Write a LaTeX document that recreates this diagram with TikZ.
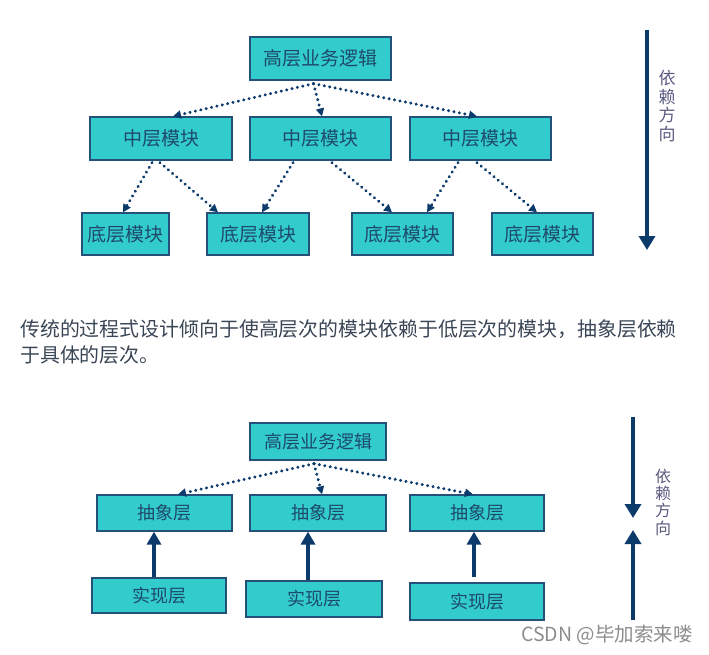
\documentclass[tikz,border=0pt]{standalone}
\usepackage{fontspec}
\setmainfont{Noto Sans CJK SC}
\usetikzlibrary{arrows.meta}
\definecolor{boxfill}{HTML}{33CCCC}
\definecolor{boxline}{HTML}{24507A}
\definecolor{boxtext}{HTML}{1E4A6A}
\definecolor{navy}{HTML}{0B3A6B}
\definecolor{dirtext}{HTML}{5A5A80}
\definecolor{paratext}{HTML}{3A4656}
\tikzset{
  box/.style={draw=boxline, line width=1.3pt, fill=boxfill, inner sep=0pt, text=boxtext, font=\fontsize{19}{21}\selectfont},
  sbox/.style={box, font=\fontsize{18}{20}\selectfont},
  dep/.style={navy, line width=3.3pt, dash pattern=on 0.01pt off 5.5pt, line cap=round, -{Triangle[length=8pt,width=8pt]}},
  impl/.style={navy, line width=3.3pt, -{Triangle[length=13pt,width=14pt]}},
  dirarrow/.style={navy, line width=4pt, -{Triangle[length=14pt,width=16pt]}},
  dirlabel/.style={text=dirtext, align=center, inner sep=0pt},
}
\begin{document}
\begin{tikzpicture}[x=1pt,y=-1pt]
\useasboundingbox (0,0) rectangle (709,655);
% ---------- top section ----------
\node[box, minimum width=141pt, minimum height=43pt] (H1) at (320.5,58.5) {高层业务逻辑};
\node[box, minimum width=142pt, minimum height=43pt] (M1) at (161,138.5) {中层模块};
\node[box, minimum width=141pt, minimum height=43pt] (M2) at (320.5,138.5) {中层模块};
\node[box, minimum width=141pt, minimum height=43pt] (M3) at (480.5,138.5) {中层模块};
\node[box, minimum width=87pt, minimum height=42pt] (B1) at (125.5,234) {底层模块};
\node[box, minimum width=102pt, minimum height=42pt] (B2) at (258,234) {底层模块};
\node[box, minimum width=101pt, minimum height=42pt] (B3) at (402.5,234) {底层模块};
\node[box, minimum width=101pt, minimum height=42pt] (B4) at (542.5,234) {底层模块};
\draw[dep] ([xshift=-7pt,yshift=-3pt]H1.south) -- ([xshift=12pt]M1.north);
\draw[dep] ([xshift=-7pt,yshift=-3pt]H1.south) -- ([xshift=1.5pt]M2.north);
\draw[dep] ([xshift=-7pt,yshift=-3pt]H1.south) -- ([xshift=-3.5pt]M3.north);
\draw[dep] ([xshift=-9pt,yshift=-2pt]M1.south) -- ([xshift=-2.5pt]B1.north);
\draw[dep] ([xshift=-1pt,yshift=-2pt]M1.south) -- ([xshift=-40pt]B2.north);
\draw[dep] ([xshift=-27.5pt,yshift=-2pt]M2.south) -- ([xshift=4pt]B2.north);
\draw[dep] ([xshift=11.5pt,yshift=-2pt]M2.south) -- ([xshift=-10.5pt]B3.north);
\draw[dep] ([xshift=-22.5pt,yshift=-2pt]M3.south) -- ([xshift=24.5pt]B3.north);
\draw[dep] ([xshift=-3.5pt,yshift=-2pt]M3.south) -- ([xshift=-5.5pt]B4.north);
% direction arrow top
\coordinate (T1) at (647,30);
\coordinate (T2) at (647,250);
\draw[dirarrow] (T1) -- (T2);
\node[dirlabel, font=\fontsize{17}{18.5}\selectfont] (L1) at (667,106) {依\\赖\\方\\向};
% ---------- paragraph ----------
\node[anchor=base west, inner sep=0pt, text=paratext, font=\fontsize{19.9}{26}\selectfont, align=left] (P) at (20,362) {传统的过程式设计倾向于使高层次的模块依赖于低层次的模块，抽象层依赖\\于具体的层次。};
% ---------- bottom section ----------
\node[sbox, minimum width=136pt, minimum height=37pt] (H2) at (318,441.5) {高层业务逻辑};
\node[sbox, minimum width=135pt, minimum height=36pt] (A1) at (164.5,513) {抽象层};
\node[sbox, minimum width=136pt, minimum height=36pt] (A2) at (318,513) {抽象层};
\node[sbox, minimum width=134pt, minimum height=36pt] (A3) at (477,513) {抽象层};
\node[sbox, minimum width=134pt, minimum height=35pt] (I1) at (159,595.5) {实现层};
\node[sbox, minimum width=136pt, minimum height=36pt] (I2) at (314,599) {实现层};
\node[sbox, minimum width=134pt, minimum height=37pt] (I3) at (477,601.5) {实现层};
\draw[dep] ([xshift=-4pt,yshift=-3pt]H2.south) -- ([xshift=13.5pt]A1.north);
\draw[dep] ([xshift=-4pt,yshift=-3pt]H2.south) -- ([xshift=4pt]A2.north);
\draw[dep] ([xshift=-4pt,yshift=-3pt]H2.south) -- ([xshift=-4pt]A3.north);
\draw[impl] ([xshift=-5pt]I1.north) -- ([xshift=-10.5pt]A1.south);
\draw[impl] ([xshift=-6pt]I2.north) -- ([xshift=-10pt]A2.south);
\draw[impl] ([xshift=-3pt,yshift=5pt]I3.north) -- ([xshift=-3pt]A3.south);
% direction arrows bottom
\coordinate (D1) at (633,417);
\coordinate (D2) at (633,518);
\coordinate (U1) at (633,620);
\coordinate (U2) at (633,530);
\draw[dirarrow] (D1) -- (D2);
\draw[dirarrow] (U1) -- (U2);
\node[dirlabel, font=\fontsize{16}{17.3}\selectfont] (L2) at (663,502) {依\\赖\\方\\向};
% watermark
\node[anchor=east, inner sep=0pt, text=black!45, font=\fontsize{19.5}{21}\selectfont] (W) at (693,635) {CSDN @毕加索来喽};
\end{tikzpicture}
\end{document}
